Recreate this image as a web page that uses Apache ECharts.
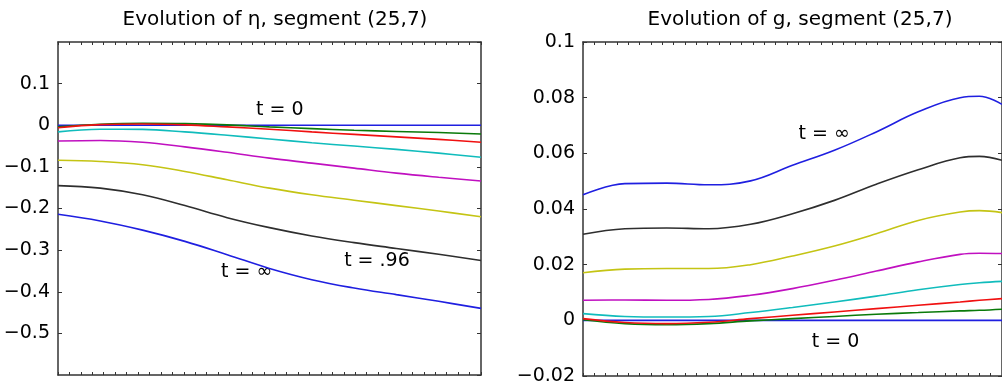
<!DOCTYPE html>
<html>
<head>
<meta charset="utf-8">
<script src="https://cdn.jsdelivr.net/npm/echarts@6/dist/echarts.min.js"></script>
<style>
  html, body { margin: 0; padding: 0; background: #fff; }
  #chart { width: 1002px; height: 388px; }
</style>
</head>
<body>
<div id="chart"></div>
<script>
// sample positions along the segment (node index)
var xsEta = [0, 3.7, 7.4, 11.1, 14.8, 18.5, 22.2, 25.9, 29.6, 33.3, 37]
var xsG = [0, 3.7, 7.4, 11.1, 14.8, 18.5, 22.2, 25.9, 29.6, 33.3, 35, 37]

// left panel: eta
var etaBlue0 = [0, 0, 0, 0, 0, 0, 0, 0, 0, 0, 0]
var etaGreen = [-0.004, 0.0024, 0.0048, 0.004, 0.001, -0.004, -0.008, -0.012, -0.015, -0.0175, -0.021]
var etaRed = [-0.006, 0.0016, 0.003, 0.001, -0.004, -0.0095, -0.016, -0.022, -0.028, -0.034, -0.041]
var etaCyan = [-0.016, -0.0095, -0.010, -0.016, -0.024, -0.033, -0.042, -0.050, -0.058, -0.067, -0.077]
var etaMagenta = [-0.038, -0.0365, -0.041, -0.052, -0.065, -0.079, -0.091, -0.103, -0.115, -0.125, -0.134]
var etaYellow = [-0.084, -0.087, -0.095, -0.111, -0.131, -0.151, -0.167, -0.180, -0.193, -0.206, -0.220]
var etaBlack = [-0.145, -0.151, -0.167, -0.193, -0.222, -0.246, -0.266, -0.282, -0.296, -0.310, -0.325]
var etaBlueInf = [-0.214, -0.230, -0.252, -0.279, -0.311, -0.344, -0.371, -0.391, -0.407, -0.423, -0.440]

// right panel: g
var gBlue0 = [0, 0, 0, 0, 0, 0, 0, 0, 0, 0, 0, 0]
var gGreen = [0.0002, -0.0012, -0.0016, -0.0012, -0.0002, 0.0006, 0.0014, 0.0022, 0.0028, 0.0034, 0.0036, 0.0040]
var gRed = [0.0006, -0.0008, -0.0012, -0.0007, 0.0006, 0.0018, 0.0030, 0.0042, 0.0054, 0.0066, 0.0072, 0.0078]
var gCyan = [0.0024, 0.0014, 0.0012, 0.0014, 0.0028, 0.0046, 0.0066, 0.0087, 0.0110, 0.0129, 0.0135, 0.0140]
var gMagenta = [0.0072, 0.0073, 0.0072, 0.0075, 0.0090, 0.0114, 0.0144, 0.0177, 0.0210, 0.0237, 0.0241, 0.0240]
var gYellow = [0.0171, 0.0184, 0.0186, 0.0186, 0.0200, 0.0231, 0.0267, 0.0311, 0.0359, 0.0389, 0.0394, 0.0387]
var gBlack = [0.0309, 0.0329, 0.0332, 0.0329, 0.0345, 0.0383, 0.0431, 0.0489, 0.0541, 0.0584, 0.0589, 0.0575]
var gBlueInf = [0.0451, 0.0491, 0.0493, 0.0487, 0.0501, 0.0557, 0.0611, 0.0677, 0.0749, 0.0800, 0.0805, 0.0776]

// in-plot annotations [x, y, text]
var etaNotes = [[19.4, 0.036, 't = 0'], [27.9, -0.327, 't = .96'], [16.5, -0.352, 't = \u221e']]
var gNotes = [[21.3, 0.0671, 't = \u221e'], [22.3, -0.0077, 't = 0']]

var titles = ['Evolution of \u03b7, segment (25,7)', 'Evolution of g, segment (25,7)']

var colors = {
  blue: '#1f1fe0',
  green: '#0a7a0a',
  red: '#f01010',
  cyan: '#10bcbc',
  magenta: '#c010c0',
  yellow: '#c4c414',
  black: '#2e2e2e'
}

var FONT = 'DejaVu Sans'
var AXIS_COLOR = '#333333'

function fmt(digits) {
  return function(v) {
    var s = parseFloat(Math.abs(v).toFixed(digits)).toString()
    return (v < -1e-9 ? '\u2212' : '') + s
  }
}

function xAx(grid, pos) {
  return {
    type: 'value',
    gridIndex: grid,
    position: pos,
    min: 0,
    max: 37,
    interval: 1,
    axisLine: { show: true, onZero: false, lineStyle: { color: AXIS_COLOR, width: 1.5 } },
    axisTick: { show: true, inside: true, length: 3, lineStyle: { color: AXIS_COLOR } },
    axisLabel: { show: false },
    splitLine: { show: false }
  }
}

function yAx(grid, pos, min, max, step, digits, labels) {
  return {
    type: 'value',
    gridIndex: grid,
    position: pos,
    min: min,
    max: max,
    interval: step,
    axisLine: { show: true, onZero: false, lineStyle: { color: AXIS_COLOR, width: 1.5 } },
    axisTick: { show: true, inside: true, length: 4, lineStyle: { color: AXIS_COLOR } },
    axisLabel: {
      show: labels,
      margin: 8,
      color: '#000',
      fontFamily: FONT,
      fontSize: 19,
      showMinLabel: labels && grid === 1,
      showMaxLabel: labels && grid === 1,
      formatter: fmt(digits)
    },
    splitLine: { show: false }
  }
}

function line(grid, xs, ys, color) {
  return {
    type: 'line',
    xAxisIndex: grid * 2,
    yAxisIndex: grid * 2,
    data: xs.map(function(x, i) { return [x, ys[i]] }),
    smooth: 0.4,
    symbol: 'none',
    silent: true,
    lineStyle: { color: color, width: 1.6 }
  }
}

function notes(grid, list) {
  return {
    type: 'scatter',
    xAxisIndex: grid * 2,
    yAxisIndex: grid * 2,
    symbolSize: 1,
    silent: true,
    itemStyle: { color: 'rgba(255,255,255,0)' },
    label: {
      show: true,
      position: 'inside',
      formatter: '{b}',
      color: '#000',
      opacity: 1,
      textBorderWidth: 0,
      fontFamily: FONT,
      fontSize: 19
    },
    data: list.map(function(n) { return { name: n[2], value: [n[0], n[1]] } })
  }
}

var chart = echarts.init(document.getElementById('chart'), null, { renderer: 'canvas' })

chart.setOption({
  animation: false,
  backgroundColor: '#fff',
  title: [
    { text: titles[0], left: 270, top: 5, textAlign: 'center', textStyle: { fontFamily: FONT, fontSize: 20, fontWeight: 'normal', color: '#000' } },
    { text: titles[1], left: 795, top: 5, textAlign: 'center', textStyle: { fontFamily: FONT, fontSize: 20, fontWeight: 'normal', color: '#000' } }
  ],
  grid: [
    { left: 58, top: 42, width: 423, height: 333 },
    { left: 583, top: 42, width: 424, height: 334 }
  ],
  xAxis: [xAx(0, 'bottom'), xAx(0, 'top'), xAx(1, 'bottom'), xAx(1, 'top')],
  yAxis: [
    yAx(0, 'left', -0.6, 0.2, 0.1, 2, true),
    yAx(0, 'right', -0.6, 0.2, 0.1, 2, false),
    yAx(1, 'left', -0.02, 0.1, 0.02, 3, true),
    yAx(1, 'right', -0.02, 0.1, 0.02, 3, false)
  ],
  series: [
    line(0, xsEta, etaBlue0, colors.blue),
    line(0, xsEta, etaGreen, colors.green),
    line(0, xsEta, etaRed, colors.red),
    line(0, xsEta, etaCyan, colors.cyan),
    line(0, xsEta, etaMagenta, colors.magenta),
    line(0, xsEta, etaYellow, colors.yellow),
    line(0, xsEta, etaBlack, colors.black),
    line(0, xsEta, etaBlueInf, colors.blue),
    notes(0, etaNotes),
    line(1, xsG, gBlue0, colors.blue),
    line(1, xsG, gGreen, colors.green),
    line(1, xsG, gRed, colors.red),
    line(1, xsG, gCyan, colors.cyan),
    line(1, xsG, gMagenta, colors.magenta),
    line(1, xsG, gYellow, colors.yellow),
    line(1, xsG, gBlack, colors.black),
    line(1, xsG, gBlueInf, colors.blue),
    notes(1, gNotes)
  ]
})
</script>
</body>
</html>
